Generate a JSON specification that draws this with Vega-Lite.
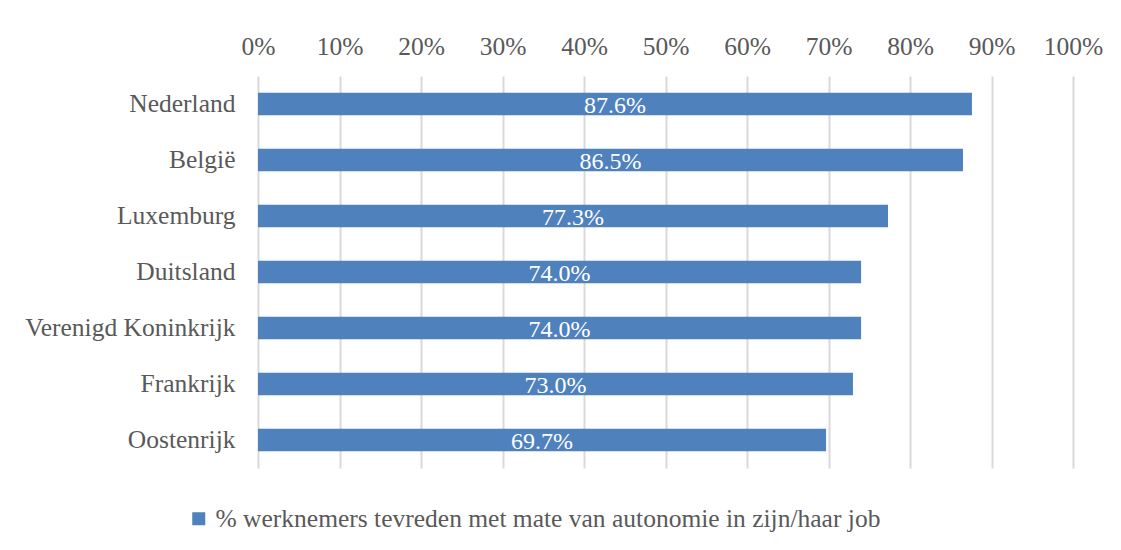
{
  "$schema": "https://vega.github.io/schema/vega-lite/v6.json",
  "width": 815,
  "height": 392,
  "autosize": {"type": "none"},
  "padding": {"left": 258, "top": 76, "right": 48, "bottom": 82},
  "background": "white",
  "config": {
    "view": {"stroke": null},
    "font": "Liberation Serif"
  },
  "data": {
    "values": [
      {"land": "Nederland", "waarde": 0.876, "reeks": "% werknemers tevreden met mate van autonomie in zijn/haar job"},
      {"land": "België", "waarde": 0.865, "reeks": "% werknemers tevreden met mate van autonomie in zijn/haar job"},
      {"land": "Luxemburg", "waarde": 0.773, "reeks": "% werknemers tevreden met mate van autonomie in zijn/haar job"},
      {"land": "Duitsland", "waarde": 0.740, "reeks": "% werknemers tevreden met mate van autonomie in zijn/haar job"},
      {"land": "Verenigd Koninkrijk", "waarde": 0.740, "reeks": "% werknemers tevreden met mate van autonomie in zijn/haar job"},
      {"land": "Frankrijk", "waarde": 0.730, "reeks": "% werknemers tevreden met mate van autonomie in zijn/haar job"},
      {"land": "Oostenrijk", "waarde": 0.697, "reeks": "% werknemers tevreden met mate van autonomie in zijn/haar job"}
    ]
  },
  "encoding": {
    "y": {
      "field": "land",
      "type": "nominal",
      "sort": null,
      "title": null,
      "scale": {"paddingInner": 0.6, "paddingOuter": 0.3},
      "axis": {
        "domain": false,
        "ticks": false,
        "labelPadding": 23,
        "labelFontSize": 25.5,
        "labelLimit": 300,
        "labelColor": "#595959",
        "labelFont": "Liberation Serif"
      }
    }
  },
  "layer": [
    {
      "mark": {"type": "bar", "color": "#4F81BD"},
      "encoding": {
        "x": {
          "field": "waarde",
          "type": "quantitative",
          "title": null,
          "scale": {"domain": [0, 1]},
          "axis": {
            "orient": "top",
            "values": [0, 0.1, 0.2, 0.3, 0.4, 0.5, 0.6, 0.7, 0.8, 0.9, 1],
            "format": ".0%",
            "domain": false,
            "ticks": false,
            "grid": true,
            "gridColor": "#D9D9D9",
            "gridWidth": 2,
            "labelFlush": false,
            "labelPadding": 17,
            "labelFontSize": 25.5,
            "labelColor": "#595959",
            "labelFont": "Liberation Serif"
          }
        },
        "color": {
          "field": "reeks",
          "type": "nominal",
          "scale": {"range": ["#4F81BD"]},
          "legend": {
            "orient": "none",
            "legendX": -72,
            "legendY": 430,
            "title": null,
            "symbolType": "square",
            "symbolSize": 169,
            "symbolStrokeWidth": 0,
            "labelFontSize": 25.5,
            "labelColor": "#595959",
            "labelFont": "Liberation Serif",
            "labelOffset": 4,
            "labelLimit": 900
          }
        }
      }
    },
    {
      "mark": {"type": "text", "color": "white", "fontSize": 24, "font": "Liberation Serif", "baseline": "middle", "align": "center", "dy": 2},
      "encoding": {
        "x": {
          "field": "waarde",
          "type": "quantitative",
          "scale": {"domain": [0, 2]},
          "axis": null
        },
        "text": {"field": "waarde", "type": "quantitative", "format": ".1%"}
      }
    }
  ],
  "resolve": {"scale": {"x": "independent"}}
}
